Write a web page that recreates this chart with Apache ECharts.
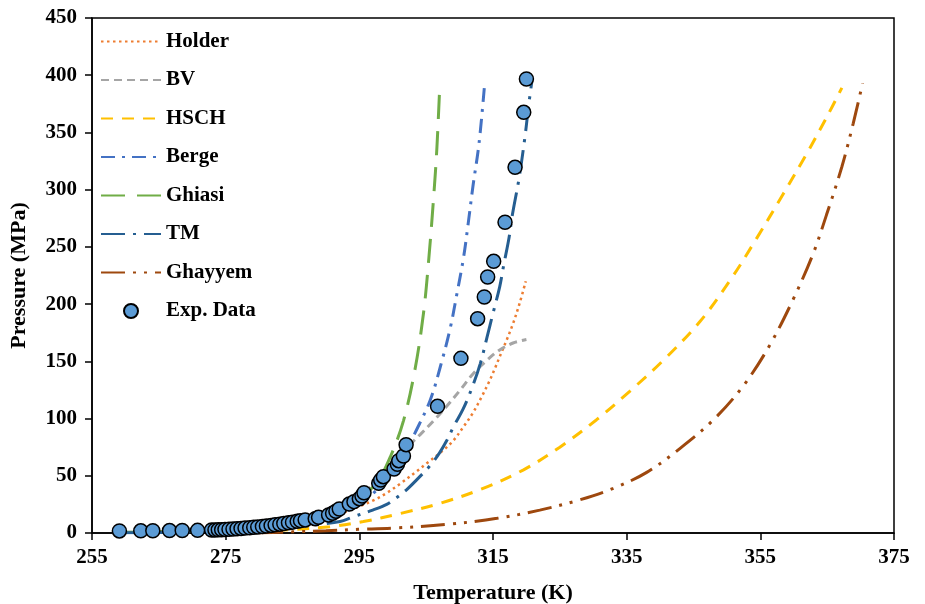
<!DOCTYPE html>
<html>
<head>
<meta charset="utf-8">
<title>Pressure vs Temperature</title>
<script src="https://cdn.jsdelivr.net/npm/echarts@6/dist/echarts.min.js"></script>
<style>
  html, body { margin: 0; padding: 0; background: #fff; }
  #main { width: 925px; height: 604px; }
</style>
</head>
<body>
<div id="main"></div>
<script>
// model curves, [T (K), P (MPa)]
var holder = [[258,0.3],[265,1],[270,1.8],[275,3],[280,5],[285,8],[290,14],[293.1,19],[295.1,23.6],[297.3,29],[299.1,35],[301.1,43],[303.6,54],[305.1,61],[307.6,72.5],[309.1,81],[310.6,93],[312,105],[313.3,119],[314.4,132],[315.3,144],[316,154],[317,168],[318,183],[319,201],[319.9,220]];
var bv = [[258,0.5],[265,1],[270,2],[275,3],[280,5],[285,9],[290,16],[295,32],[298,48],[300,62],[302,74],[304.1,86],[306.1,98],[308.1,111],[310.1,125],[312,139],[314.1,151],[316,160],[318,166],[320,169]];
var hsch = [[270,0],[280,1.5],[285,3],[290.6,5.5],[295.6,10],[301.1,17],[307.1,26],[313.1,38],[319.5,55],[325,75],[330.5,99],[335.5,124],[340.5,151],[346,185],[350.5,221],[354.4,257],[358.4,296],[361.9,331],[364.9,363],[367.2,389]];
var berge = [[258,0.4],[265,1],[270,1.8],[275,3],[280,5],[285,8],[290,13],[295,25],[298,40],[300,55],[302,72],[303.3,87],[305.6,116],[307.2,147],[308.6,179],[309.6,209],[310.6,241],[311.3,271],[312,303],[312.9,340],[313.7,389]];
var ghiasi = [[258,0.5],[265,1],[270,1.8],[275,3],[280,5],[285,9],[290,16],[293,23],[295,30],[297.6,44],[299.6,66],[301.6,98],[303.3,142],[304.6,192],[305.4,240],[306.2,300],[306.6,336],[307,386]];
var tm = [[258,0.2],[265,0.5],[270,1],[275,1.8],[280,3],[285,5],[289,7.5],[292.1,10],[294,14],[297,20],[299.1,25],[300.6,31],[302.1,38],[303.5,46],[305.6,59],[307,70],[308.1,81],[309.1,93],[310.5,108],[311.8,126],[313.1,148],[314.1,171],[315,192],[316,215],[316.6,234],[317.4,258],[317.9,278],[318.9,310],[319.8,347],[320.3,372],[320.8,394]];
var ghayyem = [[280,0],[285,1],[290,2],[294.8,3.2],[300.1,4.3],[308.1,7.5],[315.6,12.8],[322,20],[328,29],[333,39],[338,53],[343,74],[348,99],[352.5,129],[356.4,164],[359.9,204],[362.9,244],[364.9,278],[367.2,320],[368.9,358],[370.3,393]];
// experimental points
var expData = [[259.1,1.8],[262.3,1.9],[264.1,2.0],[266.6,2.1],[268.5,2.2],[270.8,2.3],
  [272.9,2.6],[273.4,2.7],[273.9,2.8],[274.4,2.9],[274.9,3.1],[275.5,3.3],[276.1,3.5],[276.7,3.7],[277.3,4.0],[277.9,4.3],[278.6,4.6],[279.2,5.0],[279.8,5.3],[280.5,5.7],[281.1,6.1],[281.8,6.6],[282.4,7.1],[283.1,7.7],[283.7,8.3],[284.4,8.9],[285.0,9.5],[285.7,10.2],
  [286.2,10.8],[286.9,11.4],[288.4,12.5],[288.9,13.7],[290.4,15.7],[291.0,17.2],[291.5,19],[292.0,21],[293.5,25.3],[294.2,27.4],[295.0,30],[295.4,32.3],[295.7,35.2],[297.9,43.4],[298.2,46.3],[298.6,49.2],[300.2,55.9],[300.7,60],[300.9,63.2],[301.6,67.3],[302.0,77.2],
  [306.7,110.7],[310.2,152.6],[312.7,187.3],[313.7,206.2],[314.2,223.7],[315.1,237.4],[316.8,271.5],[318.3,319.5],[319.6,367.6],[320.0,396.7]];
var legendNames = ['Holder', 'BV', 'HSCH', 'Berge', 'Ghiasi', 'TM', 'Ghayyem', 'Exp. Data'];

var font = 'Liberation Serif';

function curve(name, data, color, dash, width) {
  return {
    name: name, type: 'line', data: data, smooth: 0.35,
    symbol: 'none', animation: false,
    lineStyle: { color: color, width: width || 3, type: dash },
    itemStyle: { color: color }
  };
}

// line entries in the legend: hide the default circle, keep the dashed line
var legendData = legendNames.map(function (n) {
  return n === 'Exp. Data' ? { name: n } : { name: n, itemStyle: { opacity: 0 } };
});

var chart = echarts.init(document.getElementById('main'));
chart.setOption({
  backgroundColor: '#fff',
  animation: false,
  grid: {
    left: 92, right: 31, top: 18, bottom: 71, outerBoundsMode: 'none',
    show: true, borderColor: '#000', borderWidth: 1.5
  },
  legend: {
    orient: 'vertical', left: 100, top: 31, padding: 0, itemWidth: 60, itemHeight: 14, itemGap: 17.5,
    textStyle: { fontFamily: font, fontWeight: 'bold', fontSize: 21, lineHeight: 21, color: '#000' },
    data: legendData
  },
  xAxis: {
    type: 'value', min: 255, max: 375, interval: 20,
    name: 'Temperature (K)', nameLocation: 'middle', nameGap: 49,
    nameTextStyle: { fontFamily: font, fontWeight: 'bold', fontSize: 22, color: '#000' },
    axisLine: { show: true, onZero: false, lineStyle: { color: '#000', width: 1.5 } },
    axisTick: { show: true, length: 7, lineStyle: { color: '#000', width: 1.5 } },
    axisLabel: { fontFamily: font, fontWeight: 'bold', fontSize: 21, color: '#000', margin: 14 },
    splitLine: { show: false }
  },
  yAxis: {
    type: 'value', min: 0, max: 450, interval: 50,
    name: 'Pressure (MPa)', nameLocation: 'middle', nameGap: 62,
    nameTextStyle: { fontFamily: font, fontWeight: 'bold', fontSize: 22, color: '#000' },
    axisLine: { show: true, lineStyle: { color: '#000', width: 1.5 } },
    axisTick: { show: true, length: 7, lineStyle: { color: '#000', width: 1.5 } },
    axisLabel: { fontFamily: font, fontWeight: 'bold', fontSize: 21, color: '#000', margin: 15 },
    splitLine: { show: false }
  },
  series: [
    curve('Holder', holder, '#ED7D31', [2.5, 3.5], 2.5),
    curve('BV', bv, '#A5A5A5', [8, 5]),
    curve('HSCH', hsch, '#FFC000', [12, 9]),
    curve('Berge', berge, '#4472C4', [14, 7, 3, 7]),
    curve('Ghiasi', ghiasi, '#70AD47', [24, 12]),
    curve('TM', tm, '#255E91', [24, 8, 3, 8]),
    curve('Ghayyem', ghayyem, '#9E480E', [24, 8, 3, 8, 3, 8]),
    {
      name: 'Exp. Data', type: 'scatter', data: expData, symbol: 'circle', symbolSize: 14,
      itemStyle: { color: '#5B9BD5', borderColor: '#000', borderWidth: 1.5, opacity: 1 },
      z: 5
    }
  ]
});
</script>
</body>
</html>
